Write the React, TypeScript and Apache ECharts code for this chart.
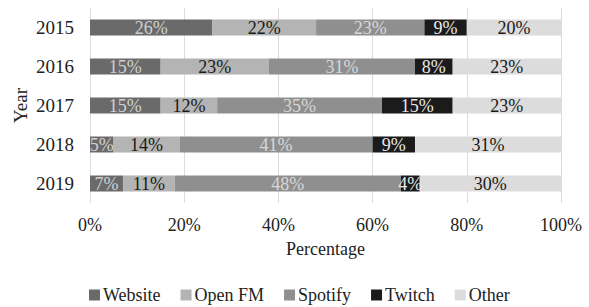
import React, { useEffect, useRef } from "react";
import * as echarts from "echarts";

const years = ["2015", "2016", "2017", "2018", "2019"];
const website = [26, 15, 15, 5, 7];
const openFM = [22, 23, 12, 14, 11];
const spotify = [23, 31, 35, 41, 48];
const twitch = [9, 8, 15, 9, 4];
const other = [20, 23, 23, 31, 30];
const xTicks = [0, 20, 40, 60, 80, 100];

const FONT = "'Liberation Serif', 'Times New Roman', serif";

export default function App() {
  const ref = useRef<HTMLDivElement>(null);
  useEffect(() => {
    if (!ref.current) return;
    const chart = echarts.init(ref.current, null, { renderer: "svg" });
    const mk = (name: string, data: number[], color: string, labelColor: string) => ({
      name,
      type: "bar",
      stack: "total",
      data,
      barWidth: 16,
      itemStyle: { color },
      label: {
        show: true,
        position: "inside",
        formatter: "{c}%",
        color: labelColor,
        fontFamily: FONT,
        fontSize: 18,
      },
    });
    chart.setOption({
      animation: false,
      textStyle: { fontFamily: FONT },
      grid: { left: 90, right: 28, top: 8, bottom: 104, containLabel: false },
      xAxis: {
        type: "value",
        min: xTicks[0],
        max: xTicks[xTicks.length - 1],
        interval: 20,
        name: "Percentage",
        nameLocation: "middle",
        nameGap: 37,
        nameTextStyle: { fontFamily: FONT, fontSize: 18, color: "#222" },
        axisLabel: {
          formatter: "{value}%",
          fontFamily: FONT,
          fontSize: 18,
          color: "#222",
          margin: 13,
        },
        axisLine: { show: false },
        axisTick: { show: false },
        splitLine: { show: true, lineStyle: { color: "#dcdcdc", width: 1 } },
      },
      yAxis: {
        type: "category",
        data: years,
        inverse: true,
        name: "Year",
        nameLocation: "middle",
        nameGap: 60,
        nameMoveOverlap: false,
        nameRotate: 90,
        nameTextStyle: { fontFamily: FONT, fontSize: 19, color: "#222" },
        axisLabel: { fontFamily: FONT, fontSize: 19, color: "#222", margin: 16 },
        axisLine: { show: false },
        axisTick: { show: false },
      },
      legend: {
        top: 281,
        left: 84,
        itemWidth: 11,
        itemHeight: 11,
        itemGap: 20,
        icon: "rect",
        textStyle: { fontFamily: FONT, fontSize: 18, color: "#222", padding: [0, 0, 0, -2] },
        data: ["Website", "Open FM", "Spotify", "Twitch", "Other"],
      },
      series: [
        mk("Website", website, "#6a6a6a", "#d0d0d0"),
        mk("Open FM", openFM, "#b4b4b4", "#1a1a1a"),
        mk("Spotify", spotify, "#8f8f8f", "#d8d8d8"),
        mk("Twitch", twitch, "#1b1b1b", "#e8e8e8"),
        mk("Other", other, "#dcdcdc", "#1a1a1a"),
      ],
    });
    return () => chart.dispose();
  }, []);
  return (
    <div
      ref={ref}
      style={{ position: "absolute", left: 0, top: 0, width: 589, height: 307 }}
    />
  );
}
